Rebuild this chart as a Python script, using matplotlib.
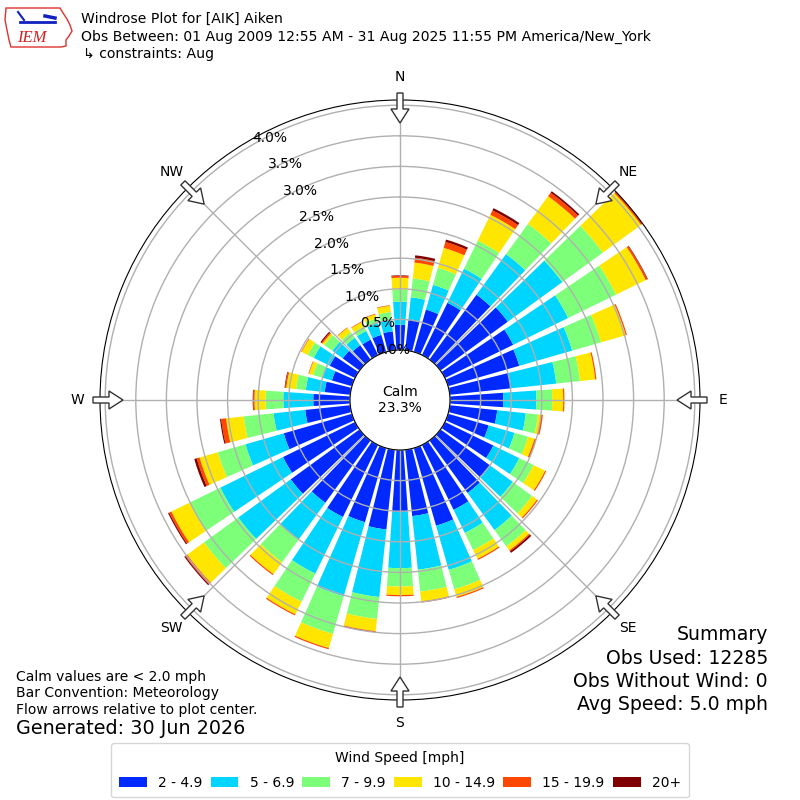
import numpy as np
import matplotlib
matplotlib.use('Agg')
import matplotlib.pyplot as plt
from matplotlib.patches import FancyArrow, Polygon

# wind direction bins (deg, meteorological, clockwise from north)
directions = np.arange(0, 360, 10)

# frequency (%) per speed bin
spd_2_5 = [0.41, 0.51, 0.72, 0.95, 1.31, 1.36, 1.24, 1.21, 1.01, 0.87, 0.78, 0.69,
           0.88, 1.00, 1.06, 1.18, 1.32, 1.09, 1.01, 1.31, 1.26, 1.31, 1.26, 1.39,
           1.31, 1.16, 0.74, 0.60, 0.42, 0.34, 0.46, 0.34, 0.29, 0.28, 0.29, 0.31]
spd_5_7 = [0.38, 0.36, 0.42, 0.62, 0.82, 1.10, 1.00, 0.90, 0.74, 0.54, 0.47, 0.44,
           0.47, 0.46, 0.75, 0.42, 0.75, 0.88, 0.92, 1.11, 1.26, 1.03, 0.74, 1.06,
           1.14, 0.65, 0.52, 0.49, 0.31, 0.17, 0.29, 0.21, 0.15, 0.16, 0.20, 0.20]
spd_7_10 = [0.20, 0.31, 0.29, 0.51, 0.61, 0.82, 0.87, 0.49, 0.39, 0.26, 0.20, 0.23,
            0.26, 0.39, 0.33, 0.31, 0.33, 0.36, 0.30, 0.36, 0.64, 0.51, 0.46, 0.69,
            0.56, 0.47, 0.49, 0.29, 0.16, 0.15, 0.11, 0.16, 0.11, 0.08, 0.08, 0.12]
spd_10_15 = [0.19, 0.26, 0.34, 0.47, 0.56, 0.77, 0.54, 0.42, 0.25, 0.18, 0.05, 0.11,
             0.21, 0.10, 0.08, 0.16, 0.13, 0.16, 0.14, 0.20, 0.24, 0.23, 0.24, 0.34,
             0.33, 0.31, 0.29, 0.18, 0.16, 0.07, 0.11, 0.04, 0.09, 0.08, 0.07, 0.10]
spd_15_20 = [0.03, 0.08, 0.10, 0.08, 0.07, 0.08, 0.03, 0.02, 0.02, 0.02, 0.03, 0.03,
             0.02, 0.02, 0.02, 0.02, 0.02, 0.02, 0.02, 0.02, 0.02, 0.02, 0.02, 0.04,
             0.04, 0.05, 0.08, 0.02, 0.02, 0.01, 0.01, 0.02, 0.01, 0.01, 0.01, 0.01]
spd_20p = [0.01, 0.04, 0.04, 0.04, 0.03, 0.02, 0.01, 0.00, 0.00, 0.00, 0.00, 0.00,
           0.00, 0.00, 0.03, 0.00, 0.00, 0.00, 0.00, 0.00, 0.00, 0.00, 0.00, 0.02,
           0.02, 0.04, 0.02, 0.01, 0.01, 0.00, 0.00, 0.02, 0.00, 0.00, 0.00, 0.00]

speed_bins = [spd_2_5, spd_5_7, spd_7_10, spd_10_15, spd_15_20, spd_20p]
bin_labels = ['2 - 4.9', '5 - 6.9', '7 - 9.9', '10 - 14.9', '15 - 19.9', '20+']
calm_pct = 23.3

rticks = np.arange(0, 4.01, 0.5)
compass = ['N', 'NE', 'E', 'SE', 'S', 'SW', 'W', 'NW']

colors = plt.cm.jet(np.arange(1, 7) / 6.)

fig = plt.figure(figsize=(8, 8), dpi=100)
ax = fig.add_axes([0.125, 0.125, 0.75, 0.75], projection='polar')
ax.set_theta_zero_location('N')
ax.set_theta_direction(-1)
ax.set_rorigin(-0.817)
ax.set_ylim(0, 4.085)

theta = np.deg2rad(directions)
bottom = np.zeros(len(directions))
for vals, c, lab in zip(speed_bins, colors, bin_labels):
    vals = np.array(vals)
    ax.bar(theta, vals, width=np.deg2rad(8), bottom=bottom, color=c,
           label=lab, linewidth=0)
    bottom += vals

ax.set_yticks(rticks)
ax.set_yticklabels(['%.1f%%' % v for v in rticks], fontsize=10)
ax.set_rlabel_position(330)
ax.set_thetagrids(np.arange(0, 360, 45), labels=compass, fontsize=10)
ax.tick_params(axis='x', pad=6)
ax.grid(True, color='#b0b0b0', lw=1)
ax.text(0.5, 0.5, 'Calm\n%.1f%%' % calm_pct, transform=ax.transAxes,
        ha='center', va='center', fontsize=10)

# flow arrows on the rim, pointing at the centre
for a in np.deg2rad(np.arange(0, 360, 45)):
    x0 = 0.5 + 307 / 800. * np.sin(a)
    y0 = 0.5 + 307 / 800. * np.cos(a)
    fig.add_artist(FancyArrow(x0, y0, -30 / 800. * np.sin(a), -30 / 800. * np.cos(a),
                              width=6 / 800., head_width=18 / 800., head_length=14 / 800.,
                              length_includes_head=True, fc='white', ec='#333333',
                              lw=1, transform=fig.transFigure))

# rough IEM logo
iowa = np.array([(6, 8), (60, 8), (63, 13), (67, 19), (70, 25), (72, 31), (69, 36),
                 (66, 40), (66, 46), (61, 47), (11, 47), (9, 40), (7, 30), (5, 20)])
fig.add_artist(Polygon(np.column_stack([iowa[:, 0] / 800., 1 - iowa[:, 1] / 800.]),
                       closed=True, fill=False, ec='#e03030', lw=1,
                       transform=fig.transFigure))
fig.text(32 / 800., 1 - 38 / 800., 'IEM', color='#d42020', fontsize=12,
         family='Liberation Serif', style='italic', ha='center', va='center')
fig.add_artist(plt.Line2D([20 / 800., 55 / 800.], [1 - 22 / 800., 1 - 22 / 800.],
                          color='#1020c0', lw=2, transform=fig.transFigure))
fig.add_artist(plt.Line2D([18 / 800., 24 / 800.], [1 - 12 / 800., 1 - 20 / 800.],
                          color='#1020c0', lw=1.5, transform=fig.transFigure))
fig.add_artist(plt.Line2D([45 / 800., 55 / 800.], [1 - 16 / 800., 1 - 18 / 800.],
                          color='#1020c0', lw=2.5, transform=fig.transFigure))

# header
fig.text(81 / 800., 1 - 19 / 800., 'Windrose Plot for [AIK] Aiken', fontsize=10.1, va='center')
fig.text(81 / 800., 1 - 37 / 800.,
         'Obs Between: 01 Aug 2009 12:55 AM - 31 Aug 2025 11:55 PM America/New_York',
         fontsize=10.1, va='center')
fig.text(83 / 800., 1 - 54 / 800., '\u21b3 constraints: Aug', fontsize=10.1, va='center')

# footer notes
fig.text(16 / 800., 1 - 677 / 800., 'Calm values are < 2.0 mph', fontsize=10, va='center')
fig.text(16 / 800., 1 - 693 / 800., 'Bar Convention: Meteorology', fontsize=10, va='center')
fig.text(16 / 800., 1 - 710 / 800., 'Flow arrows relative to plot center.', fontsize=10, va='center')
fig.text(16 / 800., 1 - 729 / 800., 'Generated: 30 Jun 2026', fontsize=13.8, va='center')

summary = ['Summary', 'Obs Used: 12285', 'Obs Without Wind: 0', 'Avg Speed: 5.0 mph']
for i, s in enumerate(summary):
    fig.text(768 / 800., 1 - (635 + 23.3 * i) / 800., s, fontsize=13.6, ha='right', va='center')

fig.legend(loc='upper center', bbox_to_anchor=(0.5, 1 - 743 / 800.), ncol=6,
           title='Wind Speed [mph]', fontsize=10, title_fontsize=10,
           columnspacing=0.6, handletextpad=0.8, borderpad=0.55, labelspacing=0.8,
           borderaxespad=0)

fig.savefig('out.png', dpi=100)
